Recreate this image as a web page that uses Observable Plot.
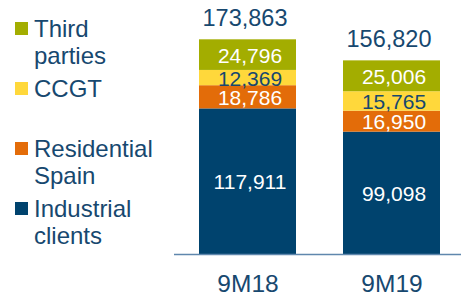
<!DOCTYPE html>
<html><head><meta charset="utf-8">
<script src="https://cdn.jsdelivr.net/npm/d3@7"></script>
<script src="https://cdn.jsdelivr.net/npm/@observablehq/plot@0.6"></script>
<style>
body{margin:0;background:#fff;}
#wrap{position:relative;width:461px;height:296px;font-family:"Liberation Sans",Arial,sans-serif;overflow:hidden;}
#chart{position:absolute;left:0;top:0;}
#legend{position:absolute;left:0;top:0;}
.item{position:absolute;left:15px;}
.sw{position:absolute;left:0;width:13px;height:13px;top:7px;}
.lab{position:absolute;left:19px;top:0;font-size:24px;line-height:27px;color:#17486f;white-space:nowrap;}
</style></head><body>
<div id="wrap"><div id="chart"></div><div id="legend"></div></div>
<script>
const categories = ["9M18", "9M19"];
const seriesNames = ["Industrial clients", "Residential Spain", "CCGT", "Third parties"];
const seriesColors = ["#00436e", "#e36c09", "#ffd83b", "#a3ad00"];
const industrialClients = [117911, 99098];
const residentialSpain = [18786, 16950];
const ccgt = [12369, 15765];
const thirdParties = [24796, 25006];
const totals = [173863, 156820];
const legendLines = [["Third", "parties"], ["CCGT"], ["Residential", "Spain"], ["Industrial", "clients"]];

const textColor = "#17486f";
const fmt = d3.format(",");
const seriesValues = [industrialClients, residentialSpain, ccgt, thirdParties];
const table = [];
seriesNames.forEach((s, i) => categories.forEach((c, j) => table.push({cat: c, series: s, value: seriesValues[i][j]})));
const totalTable = categories.map((c, j) => ({cat: c, total: totals[j]}));

const chart = Plot.plot({
  width: 461, height: 296,
  marginLeft: 174, marginRight: 0, marginTop: 0, marginBottom: 42,
  style: {fontFamily: '"Liberation Sans", Arial, sans-serif', background: "transparent"},
  x: {domain: categories, paddingInner: 0.328, paddingOuter: 0.154, align: 0.54, axis: null},
  y: {domain: [0, 205700], axis: null},
  color: {domain: seriesNames, range: seriesColors},
  marks: [
    Plot.barY(table, {x: "cat", y: "value", fill: "series"}),
    Plot.text(table, Plot.stackY({x: "cat", y: "value", text: d => d.series === "CCGT" ? null : fmt(d.value), fill: "white", fontSize: 21, dx: 2, dy: 1})),
    Plot.text(table, Plot.stackY({x: "cat", y: "value", text: d => d.series === "CCGT" ? fmt(d.value) : null, fill: textColor, fontSize: 21, dx: 2, dy: 1})),
    Plot.text(totalTable, {x: "cat", y: "total", text: d => fmt(d.total), fill: textColor, fontSize: 23.5, dy: -21, dx: -3}),
    Plot.ruleY([0], {stroke: "#5f87ad", strokeWidth: 1.5}),
    Plot.axisX({tickSize: 0, tickPadding: 20, fontSize: 24.5, color: textColor, label: null})
  ]
});
document.getElementById("chart").appendChild(chart);

const legend = document.getElementById("legend");
const legendOrder = [3, 2, 1, 0];
legendOrder.forEach((si, k) => {
  const item = document.createElement("div");
  item.className = "item";
  item.style.top = (15 + 60 * k) + "px";
  const sw = document.createElement("div");
  sw.className = "sw";
  sw.style.background = seriesColors[si];
  const lab = document.createElement("div");
  lab.className = "lab";
  lab.innerHTML = legendLines[k].join("<br>");
  item.appendChild(sw);
  item.appendChild(lab);
  legend.appendChild(item);
});
</script>
</body></html>
